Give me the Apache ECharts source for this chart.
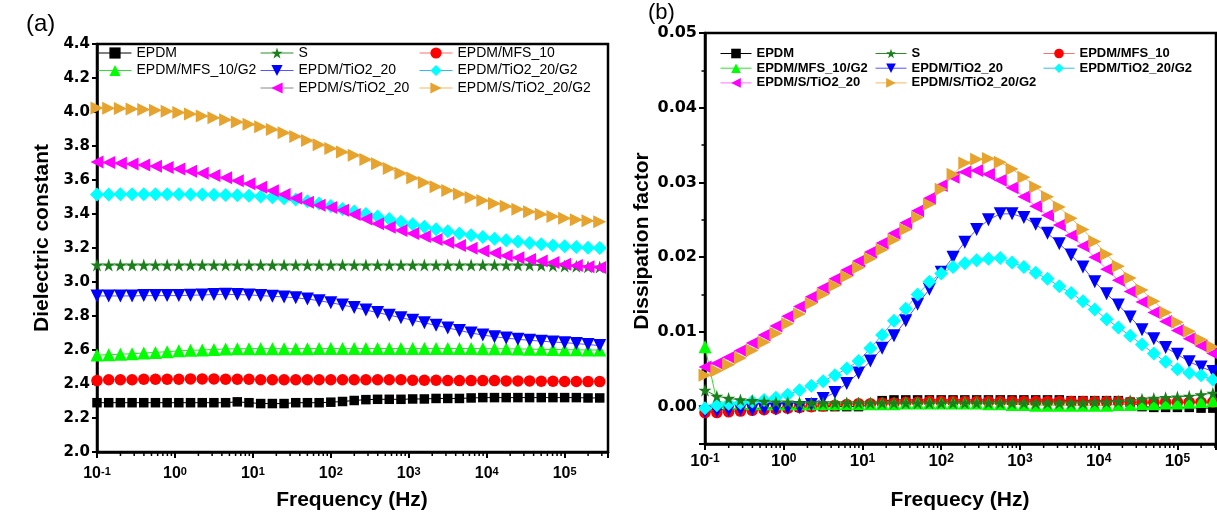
<!DOCTYPE html>
<html>
<head>
<meta charset="utf-8">
<title>Dielectric constant / Dissipation factor</title>
<script src="https://cdn.jsdelivr.net/npm/echarts@6/dist/echarts.min.js"></script>
<style>
  html, body { margin: 0; padding: 0; background: #fff; }
  #chart { width: 1217px; height: 517px; }
</style>
</head>
<body>
<div id="chart"></div>
<script>
// frequency points (Hz), shared by both panels
const freq = [0.1, 0.1413, 0.1995, 0.2818, 0.3981, 0.5623, 0.7943, 1.122, 1.585, 2.239,
  3.162, 4.467, 6.31, 8.913, 12.59, 17.78, 25.12, 35.48, 50.12, 70.79,
  100, 141.3, 199.5, 281.8, 398.1, 562.3, 794.3, 1122, 1585, 2239,
  3162, 4467, 6310, 8913, 12589, 17783, 25119, 35481, 50119, 70795,
  100000, 141254, 199526, 281838];

// minor ticks of the log axis
const xTickMinor = [0.2, 0.3, 0.4, 0.5, 0.6, 0.7, 0.8, 0.9, 2, 3, 4, 5, 6, 7, 8, 9,
  20, 30, 40, 50, 60, 70, 80, 90, 200, 300, 400, 500, 600, 700, 800, 900,
  2000, 3000, 4000, 5000, 6000, 7000, 8000, 9000, 20000, 30000, 40000, 50000, 60000, 70000, 80000, 90000,
  200000, 300000];

const names = ['EPDM', 'S', 'EPDM/MFS_10', 'EPDM/MFS_10/G2', 'EPDM/TiO2_20', 'EPDM/TiO2_20/G2', 'EPDM/S/TiO2_20', 'EPDM/S/TiO2_20/G2'];

// (a) dielectric constant
const dkEPDM = [2.29, 2.29, 2.29, 2.29, 2.29, 2.29, 2.29, 2.29, 2.29, 2.29,
  2.29, 2.29, 2.295, 2.29, 2.285, 2.285, 2.285, 2.29, 2.29, 2.29,
  2.293, 2.297, 2.303, 2.308, 2.31, 2.31, 2.31, 2.312, 2.312, 2.315,
  2.315, 2.315, 2.318, 2.32, 2.32, 2.32, 2.32, 2.32, 2.32, 2.32,
  2.32, 2.32, 2.318, 2.318];
const dkS = [3.10, 3.10, 3.10, 3.10, 3.10, 3.10, 3.10, 3.10, 3.10, 3.10,
  3.10, 3.10, 3.10, 3.10, 3.10, 3.10, 3.10, 3.10, 3.10, 3.10,
  3.10, 3.10, 3.10, 3.10, 3.10, 3.10, 3.10, 3.10, 3.10, 3.10,
  3.10, 3.10, 3.10, 3.10, 3.10, 3.10, 3.10, 3.10, 3.098, 3.096,
  3.094, 3.092, 3.09, 3.088];
const dkMFS = [2.42, 2.425, 2.425, 2.425, 2.428, 2.428, 2.428, 2.428, 2.43, 2.43,
  2.43, 2.428, 2.428, 2.428, 2.425, 2.425, 2.425, 2.425, 2.425, 2.425,
  2.425, 2.425, 2.425, 2.425, 2.425, 2.425, 2.425, 2.422, 2.422, 2.422,
  2.42, 2.42, 2.42, 2.42, 2.42, 2.418, 2.418, 2.418, 2.416, 2.416,
  2.415, 2.415, 2.414, 2.414];
const dkMFSG2 = [2.57, 2.572, 2.575, 2.578, 2.582, 2.586, 2.59, 2.595, 2.598, 2.6,
  2.603, 2.606, 2.607, 2.608, 2.608, 2.608, 2.608, 2.608, 2.608, 2.609,
  2.609, 2.609, 2.609, 2.609, 2.609, 2.609, 2.609, 2.609, 2.609, 2.609,
  2.609, 2.609, 2.609, 2.608, 2.608, 2.607, 2.606, 2.605, 2.604, 2.603,
  2.602, 2.601, 2.6, 2.6];
const dkTiO2 = [2.918, 2.918, 2.918, 2.918, 2.92, 2.92, 2.92, 2.92, 2.922, 2.924,
  2.926, 2.928, 2.926, 2.924, 2.92, 2.916, 2.912, 2.907, 2.9, 2.89,
  2.878, 2.865, 2.85, 2.835, 2.82, 2.805, 2.79, 2.775, 2.76, 2.745,
  2.73, 2.715, 2.7, 2.688, 2.678, 2.67, 2.663, 2.657, 2.652, 2.647,
  2.643, 2.638, 2.632, 2.626];
const dkTiO2G2 = [3.515, 3.515, 3.516, 3.516, 3.516, 3.516, 3.516, 3.516, 3.515, 3.514,
  3.513, 3.512, 3.51, 3.507, 3.503, 3.498, 3.492, 3.485, 3.475, 3.462,
  3.447, 3.43, 3.415, 3.4, 3.385, 3.37, 3.355, 3.34, 3.325, 3.31,
  3.298, 3.286, 3.275, 3.265, 3.255, 3.246, 3.238, 3.23, 3.222, 3.215,
  3.21, 3.206, 3.202, 3.2];
const dkSTiO2 = [3.706, 3.703, 3.699, 3.694, 3.688, 3.681, 3.673, 3.664, 3.652, 3.639,
  3.627, 3.613, 3.596, 3.578, 3.558, 3.537, 3.515, 3.492, 3.469, 3.452,
  3.438, 3.422, 3.397, 3.37, 3.343, 3.322, 3.303, 3.285, 3.268, 3.25,
  3.232, 3.215, 3.198, 3.183, 3.17, 3.155, 3.142, 3.132, 3.124, 3.114,
  3.105, 3.097, 3.09, 3.085];
const dkSTiO2G2 = [4.024, 4.022, 4.02, 4.017, 4.014, 4.011, 4.005, 3.997, 3.988, 3.977,
  3.966, 3.954, 3.941, 3.928, 3.913, 3.897, 3.878, 3.856, 3.832, 3.808,
  3.786, 3.765, 3.745, 3.72, 3.695, 3.667, 3.639, 3.612, 3.585, 3.56,
  3.538, 3.517, 3.497, 3.479, 3.462, 3.445, 3.428, 3.413, 3.398, 3.385,
  3.375, 3.366, 3.36, 3.355];

// (b) dissipation factor
const dfEPDM = [-0.0005, -0.0004, -0.0004, -0.0003, -0.0003, -0.0002, -0.0002, -0.0001, -0.0001, 0,
  0, 0, 0, 0, 0.0002, 0.0008, 0.0009, 0.0009, 0.0009, 0.0009,
  0.0009, 0.0009, 0.0009, 0.0009, 0.0009, 0.0009, 0.0009, 0.0009, 0.0009, 0.0009,
  0.0009, 0.0008, 0.0008, 0.0008, 0.0008, 0.0008, 0.0006, 0, -0.0001, -0.0001,
  -0.0001, -0.0001, -0.0002, -0.0002];
const dfS = [0.0022, 0.0014, 0.0011, 0.0009, 0.0008, 0.0007, 0.0006, 0.0006, 0.0005, 0.0005,
  0.0005, 0.0005, 0.0005, 0.0005, 0.0005, 0.0005, 0.0005, 0.0005, 0.0005, 0.0005,
  0.0005, 0.0005, 0.0005, 0.0005, 0.0005, 0.0005, 0.0005, 0.0005, 0.0005, 0.0005,
  0.0005, 0.0005, 0.0005, 0.0006, 0.0006, 0.0007, 0.0008, 0.001, 0.0011, 0.0012,
  0.0013, 0.0014, 0.0016, 0.0018];
const dfMFS = [-0.0008, -0.0008, -0.0007, -0.0006, -0.0005, -0.0004, -0.0003, -0.0002, -0.0001, 0,
  0.0001, 0.0002, 0.0003, 0.0004, 0.0004, 0.0005, 0.0005, 0.0006, 0.0006, 0.0007,
  0.0007, 0.0007, 0.0007, 0.0007, 0.0007, 0.0007, 0.0007, 0.0007, 0.0007, 0.0007,
  0.0007, 0.0007, 0.0007, 0.0007, 0.0007, 0.0007, 0.0006, 0.0006, 0.0006, 0.0006,
  0.0006, 0.0006, 0.0006, 0.0006];
const dfMFSG2 = [0.008, 0.0007, 0.0005, 0.0005, 0.0004, 0.0004, 0.0004, 0.0004, 0.0004, 0.0004,
  0.0004, 0.0004, 0.0004, 0.0004, 0.0004, 0.0004, 0.0004, 0.0005, 0.0005, 0.0005,
  0.0005, 0.0005, 0.0005, 0.0005, 0.0004, 0.0004, 0.0003, 0.0003, 0.0002, 0.0002,
  0.0002, 0.0002, 0.0002, 0.0002, 0.0002, 0.0003, 0.0003, 0.0004, 0.0004, 0.0005,
  0.0005, 0.0006, 0.0007, 0.0008];
const dfTiO2 = [-0.0007, -0.0006, -0.0005, -0.0004, -0.0004, -0.0003, -0.0003, -0.0002, -0.0001, 0.0003,
  0.0011, 0.0019, 0.0031, 0.0045, 0.0061, 0.0078, 0.0095, 0.0115, 0.0137, 0.0157,
  0.018, 0.02, 0.022, 0.0237, 0.025, 0.0258, 0.0258, 0.0253, 0.0244, 0.0232,
  0.0218, 0.0203, 0.0187, 0.0167, 0.0151, 0.0136, 0.012, 0.0103, 0.0091, 0.0079,
  0.007, 0.006, 0.0053, 0.0047];
const dfTiO2G2 = [-0.0002, 0.0002, 0.0004, 0.0005, 0.0007, 0.0009, 0.0012, 0.0016, 0.0022, 0.0028,
  0.0034, 0.0042, 0.0051, 0.0061, 0.0078, 0.0096, 0.0115, 0.0131, 0.015, 0.0167,
  0.0178, 0.0187, 0.0192, 0.0196, 0.0198, 0.0199, 0.0193, 0.0187, 0.0179, 0.0171,
  0.0161, 0.0152, 0.0141, 0.013, 0.0117, 0.0106, 0.0095, 0.0083, 0.0071, 0.006,
  0.005, 0.0045, 0.0042, 0.0036];
const dfSTiO2 = [0.0053, 0.0058, 0.0066, 0.0075, 0.0085, 0.0096, 0.0108, 0.0121, 0.0134, 0.0147,
  0.0159, 0.0171, 0.0183, 0.0195, 0.0207, 0.0219, 0.0232, 0.0246, 0.0262, 0.0279,
  0.0296, 0.0307, 0.0314, 0.0316, 0.0311, 0.0303, 0.0293, 0.0281, 0.0268, 0.0256,
  0.0243, 0.0229, 0.0215, 0.02, 0.0184, 0.0169, 0.0154, 0.014, 0.0126, 0.0114,
  0.0102, 0.0091, 0.0081, 0.0071];
const dfSTiO2G2 = [0.0042, 0.0048, 0.0056, 0.0065, 0.0075, 0.0086, 0.0098, 0.0111, 0.0124, 0.0138,
  0.015, 0.0162, 0.0174, 0.0186, 0.0198, 0.021, 0.0223, 0.0237, 0.0253, 0.0271,
  0.0291, 0.0311, 0.0326, 0.0331, 0.0332, 0.0327, 0.0318, 0.0307, 0.0294, 0.0281,
  0.0267, 0.0252, 0.0237, 0.0221, 0.0204, 0.0188, 0.0172, 0.0156, 0.0141, 0.0126,
  0.0113, 0.0101, 0.009, 0.008];

const star = 'path://M50,0L61.2,34.5L97.6,34.5L68.2,55.9L79.4,90.5L50,69.1L20.6,90.5L31.8,55.9L2.4,34.5L38.8,34.5Z';
const markers = [
  { symbol: 'rect', size: 9.5, color: '#000000', line: '#000000' },
  { symbol: star, size: 13, color: '#1b7f1b', line: '#2e8b2e' },
  { symbol: 'circle', size: 11.5, color: '#ff0000', line: '#ff7070' },
  { symbol: 'triangle', size: 13, color: '#00ff00', line: '#33dd33' },
  { symbol: 'triangle', rotate: 180, size: 13, color: '#0000ff', line: '#5555ff' },
  { symbol: 'diamond', size: 14, color: '#00ffff', line: '#33bbee' },
  { symbol: 'triangle', rotate: 90, size: 13, color: '#ff00ff', line: '#ff77ff' },
  { symbol: 'triangle', rotate: -90, size: 13, color: '#e6a32e', line: '#f2b866' }
];

function makeSeries(list, panel) {
  return list.map((vals, k) => ({
    type: 'line',
    name: names[k],
    xAxisIndex: panel,
    yAxisIndex: panel,
    data: freq.map((f, i) => [f, vals[i]]),
    symbol: markers[k].symbol,
    symbolSize: markers[k].size,
    symbolRotate: markers[k].rotate || 0,
    itemStyle: { color: markers[k].color },
    lineStyle: { color: markers[k].line, width: 1 },
    emphasis: { disabled: true },
    z: (panel === 1 && k === 1) ? 3 : 2
  }));
}

function minorTickSeries(panel, yMin) {
  return {
    type: 'custom',
    xAxisIndex: panel,
    yAxisIndex: panel,
    silent: true,
    clip: false,
    z: 4,
    data: xTickMinor.map(v => [v, yMin]),
    renderItem: function (params, api) {
      const p = api.coord([api.value(0), api.value(1)]);
      return {
        type: 'line',
        shape: { x1: p[0], y1: p[1], x2: p[0], y2: p[1] + 4 },
        style: { stroke: '#000', lineWidth: 1.5 }
      };
    }
  };
}

function logLabel(size, margin) {
  return {
    margin: margin,
    formatter: function (v) {
      const e = Math.log10(v);
      const r = Math.round(e);
      if (Math.abs(e - r) > 1e-6) return '';
      return '{b|10}{s|' + r + '}';
    },
    rich: {
      b: { fontSize: size, fontWeight: 'bold', fontFamily: 'Liberation Sans', color: '#000' },
      s: { fontSize: size - 5, fontWeight: 'bold', fontFamily: 'Liberation Sans', color: '#000', verticalAlign: 'top' }
    }
  };
}

function xAxisCfg(panel, max, size, margin) {
  return {
    type: 'log', logBase: 10, gridIndex: panel, min: 0.1, max: max,
    axisLine: { show: true, onZero: false, lineStyle: { color: '#000', width: 2.5 } },
    axisTick: { show: true, length: 6, lineStyle: { color: '#000', width: 2 } },
    axisLabel: logLabel(size, margin),
    splitLine: { show: false }
  };
}

function legendCol(left, top, items, textStyle, w, h, gap) {
  return {
    left: left, top: top, orient: 'vertical', padding: 0,
    itemGap: gap, itemWidth: w, itemHeight: h,
    selectedMode: false,
    lineStyle: { width: 1 },
    textStyle: textStyle,
    data: items
  };
}

const textA = { fontSize: 14, fontFamily: 'Liberation Sans', color: '#000', lineHeight: 14 };
const textB = { fontSize: 13, fontWeight: 'bold', fontFamily: 'Liberation Sans', color: '#000', lineHeight: 12 };

const option = {
  animation: false,
  backgroundColor: '#fff',
  grid: [
    { left: 97, top: 44, width: 511, height: 408, show: true, borderColor: '#000', borderWidth: 2.5, outerBoundsMode: 'none' },
    { left: 705, top: 33, width: 511, height: 411, show: true, borderColor: '#000', borderWidth: 2.5, outerBoundsMode: 'none' }
  ],
  xAxis: [xAxisCfg(0, 360000, 16, 14), xAxisCfg(1, 309000, 17, 9)],
  yAxis: [
    {
      type: 'value', gridIndex: 0, min: 2.0, max: 4.4, interval: 0.2,
      axisLine: { show: true, lineStyle: { color: '#000', width: 2.5 } },
      axisTick: { show: true, length: 5, lineStyle: { color: '#000', width: 2 } },
      axisLabel: {
        margin: 7, color: '#000', fontSize: 15, fontWeight: 'bold', fontFamily: 'DejaVu Sans',
        formatter: v => v.toFixed(1)
      },
      splitLine: { show: false }
    },
    {
      type: 'value', gridIndex: 1, min: -0.005, max: 0.05, splitNumber: 5,
      axisLine: { show: true, lineStyle: { color: '#000', width: 2.5 } },
      axisTick: { show: true, length: 6, lineStyle: { color: '#000', width: 2 } },
      minorTick: { show: true, splitNumber: 2, length: 3.5, lineStyle: { color: '#000', width: 1.5 } },
      axisLabel: {
        margin: 8, color: '#000', fontSize: 16, fontWeight: 'bold', fontFamily: 'DejaVu Sans',
        formatter: v => (Math.abs(v * 100 - Math.round(v * 100)) < 1e-6 ? v.toFixed(2) : '')
      },
      splitLine: { show: false }
    }
  ],
  legend: [
    legendCol(98, 46, ['EPDM', 'EPDM/MFS_10/G2'], textA, 33, 14, 3.5),
    legendCol(260, 46, ['S', 'EPDM/TiO2_20', { name: 'EPDM/S/TiO2_20', lineStyle: { color: '#888888' } }], textA, 33, 14, 3.5),
    legendCol(419, 46, ['EPDM/MFS_10', 'EPDM/TiO2_20/G2', 'EPDM/S/TiO2_20/G2'], textA, 33, 14, 3.5),
    legendCol(720, 47, ['EPDM', 'EPDM/MFS_10/G2', 'EPDM/S/TiO2_20'], textB, 31, 12, 1.7),
    legendCol(875, 47, ['S', 'EPDM/TiO2_20', 'EPDM/S/TiO2_20/G2'], textB, 31, 12, 1.7),
    legendCol(1043, 47, ['EPDM/MFS_10', 'EPDM/TiO2_20/G2'], textB, 31, 12, 1.7)
  ],
  graphic: [
    { type: 'text', left: 26, top: 12, style: { text: '(a)', font: '24px "Liberation Sans"', fill: '#000' } },
    { type: 'text', left: 648, top: 2, style: { text: '(b)', font: '22px "Liberation Sans"', fill: '#000' } },
    { type: 'text', x: 42, y: 238, rotation: Math.PI / 2,
      style: { text: 'Dielectric constant', font: 'bold 21px "Liberation Sans"', fill: '#000', align: 'center', verticalAlign: 'middle' } },
    { type: 'text', x: 642, y: 241, rotation: Math.PI / 2,
      style: { text: 'Dissipation factor', font: 'bold 21px "Liberation Sans"', fill: '#000', align: 'center', verticalAlign: 'middle' } },
    { type: 'text', x: 352, y: 500,
      style: { text: 'Frequency (Hz)', font: 'bold 21px "Liberation Sans"', fill: '#000', align: 'center', verticalAlign: 'middle' } },
    { type: 'text', x: 960, y: 500,
      style: { text: 'Frequecy (Hz)', font: 'bold 21px "Liberation Sans"', fill: '#000', align: 'center', verticalAlign: 'middle' } }
  ],
  series: [].concat(
    makeSeries([dkEPDM, dkS, dkMFS, dkMFSG2, dkTiO2, dkTiO2G2, dkSTiO2, dkSTiO2G2], 0),
    makeSeries([dfEPDM, dfS, dfMFS, dfMFSG2, dfTiO2, dfTiO2G2, dfSTiO2, dfSTiO2G2], 1),
    [minorTickSeries(0, 2.0), minorTickSeries(1, -0.005)]
  )
};

const chart = echarts.init(document.getElementById('chart'));
chart.setOption(option);
</script>
</body>
</html>
